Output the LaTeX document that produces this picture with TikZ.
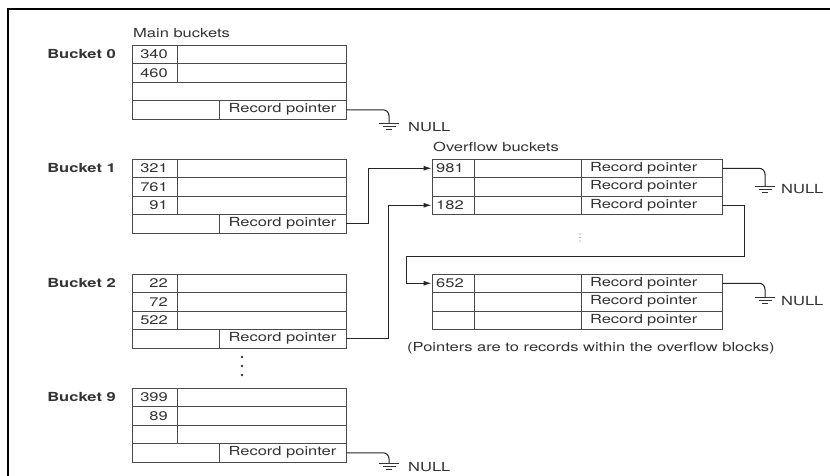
\documentclass[tikz,border=0pt]{standalone}
\usepackage{fontspec}
\setmainfont[FakeStretch=1.32]{TeX Gyre Heros}
\usetikzlibrary{arrows.meta}
\definecolor{ink}{HTML}{333333}
\definecolor{edge}{HTML}{4A4A4A}
\tikzset{
  cell/.style={draw=edge, line width=0.9pt},
  txt/.style={inner sep=0pt, text=ink},
  blbl/.style={txt, font=\fontsize{12.5}{14}\selectfont\bfseries},
  rpmain/.style={cell, inner sep=0pt, minimum width=127pt, minimum height=18.5pt, text=ink},
  rpov/.style={cell, inner ysep=0pt, inner xsep=9pt, text width=123pt, align=left, minimum height=18.5pt, text=ink},
  ovnum/.style={cell, inner ysep=0pt, inner xsep=4pt, text width=34pt, align=left, minimum height=18.5pt, text=ink},
  link/.style={draw=black!85, line width=1pt},
  arr/.style={link, -{Latex[length=8pt,width=5pt]}},
  gnd/.style={draw=black!80, line width=0.9pt},
}
\newcommand\mainbkt[7]{%
  \draw[cell] (132,#2) rectangle (346,#2+74);
  \foreach \k in {1,2,3} {\draw[cell] (132,#2+\k*18.5) -- (346,#2+\k*18.5);}
  \draw[cell] (177,#2) -- (177,#2+#7*18.5);
  \node[rpmain] (#1rp) at (282.5,#2+64.75) {Record pointer};
  \node[blbl, anchor=base east] (#1lbl) at (116,#2+13.75) {#3};
  \node[txt, anchor=base east] (#1n1) at (168,#2+13.75) {#4};
  \node[txt, anchor=base east] (#1n2) at (168,#2+32.25) {#5};
  \node[txt, anchor=base east] (#1n3) at (168,#2+50.75) {#6};
}
\newcommand\ovbkt[4]{%
  \foreach \k in {1,2,3} {%
    \node[rpov] (#1rp\k) at (651.5,#2+\k*18.5-9.25) {Record pointer};
    \node[ovnum] (#1n\k) at (453,#2+\k*18.5-9.25) {};
    \draw[cell] (474,#2+\k*18.5-18.5) rectangle (581,#2+\k*18.5);
  }
  \node[txt, anchor=base west] (#1numa) at (436,#2+13.75) {#3};
  \node[txt, anchor=base west] (#1numc) at (436,#2+50.75) {#4};
}
\newcommand\groundsym[1]{%
  \draw[gnd] ([xshift=-10pt]#1) -- ([xshift=10pt]#1);
  \draw[gnd] ([xshift=-6.5pt,yshift=-3pt]#1) -- ([xshift=6.5pt,yshift=-3pt]#1);
  \draw[gnd] ([xshift=-3pt,yshift=-6pt]#1) -- ([xshift=3pt,yshift=-6pt]#1);
}
\begin{document}
\begin{tikzpicture}[x=1pt,y=-1pt, font=\fontsize{12.5}{14}\selectfont]
\useasboundingbox (0,0) rectangle (830,475);
\fill[white] (0,0) rectangle (830,475);
\draw[line width=2pt, black] (8,490) -- (8,9) -- (845,9);

\node[txt, anchor=base west] (mainhd) at (133,37) {Main buckets};
\node[txt, anchor=base west] (ovhd) at (433,151) {Overflow buckets};

\mainbkt{b0}{45}{Bucket 0}{340}{460}{}{2}
\mainbkt{b1}{159}{Bucket 1}{321}{761}{91}{3}
\mainbkt{b2}{274}{Bucket 2}{22}{72}{522}{3}
\mainbkt{b9}{388}{Bucket 9}{399}{89}{}{3}

\foreach \yy in {357,366,375} {\fill[ink] (242,\yy) circle (1.3pt);}

\ovbkt{ovA}{159}{981}{182}
\ovbkt{ovB}{274}{652}{}
\foreach \yy in {234,237.5,241} {\fill[black!55] (580,\yy) circle (0.6pt);}

\node[txt, anchor=base west] (note) at (407,351) {(Pointers are to records within the overflow blocks)};

% NULL pointers
\coordinate (g0) at (389,123);
\coordinate (g9) at (389,463);
\coordinate (gA) at (765,186);
\coordinate (gB) at (765,297);
\draw[link, rounded corners=6pt] (b0rp.east) -| (g0);
\draw[link, rounded corners=6pt] (b9rp.east) -| (g9);
\draw[link, rounded corners=6pt] (ovArp1.east) -| (gA);
\draw[link, rounded corners=6pt] (ovBrp1.east) -| (gB);
\groundsym{g0}
\groundsym{g9}
\groundsym{gA}
\groundsym{gB}
\node[txt, anchor=base west] (null0) at (408,131.5) {NULL};
\node[txt, anchor=base west] (null9) at (408,471) {NULL};
\node[txt, anchor=base west] (nullA) at (781,193) {NULL};
\node[txt, anchor=base west] (nullB) at (781,305) {NULL};

% overflow links
\draw[arr] (b1rp.east) -- ++(22,0) |- (ovAn1.west);
\draw[arr] (b2rp.east) -- ++(42,0) |- (ovAn3.west);
\draw[arr] (ovArp3.east) -- ++(22,0) -- ++(0,51) -| ([xshift=-25pt]ovBn1.west) -- (ovBn1.west);
\end{tikzpicture}
\end{document}
